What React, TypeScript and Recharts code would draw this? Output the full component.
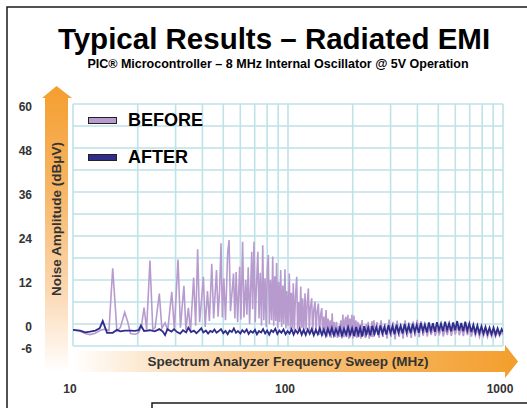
import { CartesianGrid, Legend, Line, LineChart, XAxis, YAxis } from 'recharts'

// [frequency MHz, amplitude dBµV]
const beforePoints: [number, number][] = [
    [10, -1.6], [10.8, -2.0], [11.4, -2.6], [12.0, -2.9], [12.7, -2.5], [13.4, -1.7], [14.1, -1.4], [14.7, -1.8],
    [15.3, 15.2], [16.0, -1.9], [16.6, -1.0], [17.4, 3.2], [18.0, 0.4], [18.5, -2.6], [19.4, -2.8], [20.1, -2.5],
    [20.8, -0.8], [21.4, 4.5], [22.0, -1.4], [22.8, 17.3], [23.5, -1.5], [24.1, -1.0], [25.2, 8.3], [25.9, -1.2],
    [26.8, 0.3], [27.6, -1.6], [28.8, 8.8], [29.6, -1.5], [30.8, 17.6], [31.6, -1.0], [32.8, 10.4], [33.5, -1.6],
    [34.4, 4.4], [35.2, -2.0], [36.4, 12.7], [37.2, -0.5], [38.0, 20.4], [38.8, 0.5], [39.6, 6.5], [40.4, 12.9],
    [41.2, -0.8], [42.2, 9.0], [43.1, 0.8], [44.2, 16.4], [45.1, 1.5], [45.8, 8.0], [46.5, 14.7], [47.3, 2.0],
    [48.1, 9.5], [48.8, 22.0], [49.5, 1.8], [50.3, 12.5], [51.2, 1.0], [51.8, 10.0], [52.4, 19.3], [53.2, 22.9],
    [54.0, 3.5], [54.8, 8.0], [55.8, 13.8], [56.6, 1.5], [57.4, 14.2], [58.3, 0.5], [59.6, 15.6], [60.4, 1.2],
    [61.5, 22.4], [62.4, 1.8], [63.6, 12.0], [64.4, 2.5], [65.3, 15.5], [66.3, 0.0], [67.8, 19.7], [68.5, 4.0],
    [69.5, 22.4], [70.4, 0.5], [71.3, 10.0], [72.4, 19.7], [73.3, 1.5], [74.3, 14.0], [75.3, -0.5], [76.3, 21.5],
    [77.2, 1.0], [78.2, 12.5], [79.2, -0.8], [80.1, 15.0], [81.0, 18.8], [81.9, 0.0], [82.9, 12.0], [83.9, 1.0],
    [84.9, 18.4], [85.8, -0.5], [86.8, 13.0], [87.7, 0.8], [88.5, 16.6], [89.5, -1.0], [90.5, 11.5], [91.5, 0.5],
    [92.5, 14.7], [93.5, -0.8], [94.6, 10.5], [95.6, 0.0], [96.8, 14.9], [97.8, -1.2], [98.8, 9.0], [100, -0.5],
    [101.4, 13.8], [102.5, -1.5], [103.6, 8.5], [104.7, -1.0], [105.8, 11.1], [107.0, -2.0], [108.3, 7.5],
    [109.8, 12.9], [110.8, -1.5], [112.0, 6.0], [113.3, -2.0], [114.6, 10.2], [115.8, -1.0], [117.0, 7.0],
    [118.3, -2.5], [120.0, 8.4], [121.3, -1.5], [122.8, 5.5], [124.4, 9.7], [125.6, -2.0], [127.0, 4.5],
    [128.9, 7.0], [130.2, -2.8], [131.8, 4.0], [133.6, 6.1], [135.0, -2.5], [136.6, 3.5], [138.5, 5.6],
    [140.0, -3.0], [141.8, 2.5], [143.6, 4.3], [145.0, -3.2], [146.8, 2.0], [148.5, -2.0], [150.3, 3.8],
    [152.0, -3.5], [153.5, 1.5], [155.2, -2.5], [157.0, 1.0], [158.8, -3.8], [160.5, 2.9], [162.2, -3.0],
    [164.0, 0.5], [166.0, -3.5], [168.0, 0.6], [170.0, -3.8], [172.0, -0.5], [174.0, -3.5], [176.0, 1.0],
    [178.0, -3.0], [180.0, 2.6], [182.0, -3.6], [184.0, 1.0], [186.0, 2.0], [188.0, -3.5], [190.0, 2.5],
    [192.0, -4.0], [194.0, 1.5], [196.0, -3.2], [198.2, 2.5], [200.5, -4.0], [202.5, 2.3], [205.0, -3.5],
    [207.0, 1.0], [209.0, -3.8], [211.5, 0.6], [214.0, -3.5], [216.0, 0.0], [218.5, -4.0], [221.0, 1.1],
    [223.5, -3.2], [226.0, -0.5], [228.5, -3.8], [231.0, 0.0], [233.5, -3.0], [236.0, 0.6], [238.5, -4.0],
    [241.0, -0.5], [243.5, -3.5], [246.0, 0.8], [248.5, -3.6], [251.0, 1.0], [253.9, -3.0], [259.4, 0.5],
    [265.1, -3.8], [270.8, 1.0], [276.7, -3.5], [282.7, 0.2], [288.9, -4.0], [295.2, 1.2], [301.6, -3.6],
    [308.2, 0.6], [314.9, -4.2], [321.7, 0.9], [328.7, -3.5], [335.8, 0.0], [343.1, -4.0], [350.6, 1.0],
    [358.2, -3.6], [366.0, 0.4], [374.0, -3.8], [382.1, 0.7], [390.4, -3.4], [398.9, 1.1], [407.6, -3.6],
    [416.4, 0.8], [425.5, -3.2], [434.7, -0.2], [444.2, -3.4], [453.8, -0.8], [463.7, -3.0], [473.8, -0.5],
    [484.1, -3.3], [494.6, -1.0], [505.4, -3.1], [516.4, -0.6], [527.6, -3.4], [539.1, -1.0], [550.8, -3.0],
    [562.8, -0.4], [575.0, -3.2], [587.5, -0.8], [600.3, -2.9], [613.3, -0.3], [626.7, -3.1], [640.3, -0.9],
    [654.2, -3.3], [668.4, -0.5], [683.0, -3.0], [697.8, -1.0], [713.0, -3.4], [728.5, -1.2], [744.3, -3.2],
    [760.5, -1.4], [777.0, -3.5], [793.9, -1.5], [811.2, -3.3], [828.8, -1.6], [846.8, -3.6], [865.2, -1.8],
    [884.0, -3.4], [903.2, -1.7], [922.9, -3.5], [942.9, -2.0], [963.4, -3.3], [984.4, -2.2], [1000, -3.0]
]

const afterPoints: [number, number][] = [
    [10, -1.6], [10.8, -1.8], [11.4, -2.3], [12.0, -2.1], [12.7, -1.8], [13.3, -1.2], [13.75, 0.8], [14.4, -2.4],
    [15.3, -2.4], [16.0, -1.6], [16.6, -2.0], [17.4, -1.8], [18.5, -1.8], [19.4, -1.9], [20.2, -1.7], [20.7, -0.4],
    [21.4, -1.9], [22.8, -1.7], [24.0, -2.0], [25.2, -1.4], [26.1, -2.0], [26.8, -3.0], [27.5, -1.4], [28.7, -2.1],
    [29.5, -1.4], [30.5, -2.2], [31.5, -2.6], [32.5, -1.7], [33.6, -2.3], [34.4, -1.0], [35.4, -2.2], [36.5, -1.8],
    [37.5, -2.5], [38.5, -1.9], [39.5, -1.2], [40.4, -2.3], [41.5, -1.8], [42.5, -2.6], [43.5, -1.9], [44.5, -2.2],
    [45.5, -1.5], [46.5, -2.4], [47.5, -2.0], [48.8, -1.4], [50.0, -2.5], [51.2, -1.9], [52.4, -2.8], [53.5, -1.8],
    [54.8, -2.2], [56.0, -1.2], [57.3, -2.4], [58.5, -1.9], [60.0, -2.6], [61.3, -1.7], [62.7, -2.3], [64.2, -1.5],
    [65.6, -2.7], [67.0, -1.9], [68.6, -2.4], [70.2, -1.6], [71.7, -2.8], [73.3, -1.9], [75.0, -2.3], [76.6, -1.4],
    [78.3, -2.6], [80.0, -1.8], [81.8, -2.9], [83.6, -1.7], [85.4, -2.2], [87.3, -1.3], [89.2, -2.7], [91.2, -1.8],
    [93.2, -2.4], [95.3, -1.5], [97.4, -2.8], [99.5, -1.9], [101.7, -2.6], [103.9, -1.4], [106.2, -2.9],
    [108.5, -1.7], [110.9, -2.5], [113.3, -1.3], [115.8, -2.9], [118.3, -1.6], [120.9, -3.0], [123.5, -1.5],
    [126.2, -2.7], [129.0, -1.4], [131.8, -3.1], [134.7, -1.6], [137.6, -2.8], [140.6, -1.2], [143.7, -3.0],
    [146.8, -1.5], [150.0, -3.2], [153.3, -1.3], [156.6, -2.9], [160.0, -1.1], [163.5, -3.1], [167.1, -1.4],
    [170.8, -2.8], [174.5, -1.0], [178.3, -3.2], [182.2, -1.3], [186.2, -2.9], [190.3, -0.9], [194.4, -3.0],
    [198.7, -1.2], [203.0, -3.3], [207.4, -0.8], [212.0, -2.9], [216.6, -1.1], [221.3, -3.4], [226.2, -0.6],
    [231.1, -2.8], [236.1, -1.0], [241.3, -3.1], [246.6, -0.5], [252.0, -2.7], [257.5, -0.9], [263.1, -3.0],
    [268.9, -0.4], [274.8, -2.6], [280.8, -0.8], [286.9, -2.9], [293.2, -0.3], [299.6, -2.5], [306.2, -0.6],
    [312.9, -2.8], [319.7, -0.2], [326.7, -2.4], [333.9, -0.5], [341.2, -2.6], [348.7, 0.0], [356.3, -2.3],
    [364.1, -0.4], [372.1, -2.5], [380.2, 0.1], [388.6, -2.2], [397.1, -0.3], [405.8, -2.4], [414.7, 0.3],
    [423.7, -2.0], [433.0, -0.1], [442.5, -2.3], [452.2, 0.4], [462.1, -1.8], [472.2, 0.2], [482.5, -2.1],
    [493.1, 0.5], [503.9, -1.7], [514.9, 0.1], [526.2, -2.0], [537.7, 0.6], [549.5, -1.6], [561.5, 0.2],
    [573.8, -2.0], [586.3, 0.4], [599.1, -1.7], [612.2, 0.8], [625.6, -1.8], [639.3, 0.3], [653.3, -2.0],
    [667.6, 0.6], [682.2, -1.8], [697.1, 0.1], [712.4, -2.2], [728.0, -0.2], [743.9, -2.4], [760.2, -0.4],
    [776.8, -2.5], [793.8, -0.6], [811.2, -2.6], [829.0, -0.8], [847.1, -2.7], [865.7, -1.0], [884.6, -2.8],
    [904.0, -1.0], [923.8, -2.9], [944.0, -1.2], [964.7, -2.8], [985.8, -1.4], [1000, -2.2]
]

const seriesNames = ['BEFORE', 'AFTER']
const freqTicks = [10, 20, 30, 40, 50, 60, 70, 80, 90, 100, 200, 300, 400, 500, 600, 700, 800, 900, 1000]
const freqLabels = [10, 100, 1000]
const dbTicks = [-6, 0, 6, 12, 18, 24, 30, 36, 42, 48, 54, 60]
const dbLabels = [-6, 0, 12, 24, 36, 48, 60]

const FONT = "'Liberation Sans', Arial, sans-serif"
const INK = '#333333'
const BEFORE_COLOR = '#B89BCE'
const AFTER_COLOR = '#2E2D8C'

const toRows = (points: [number, number][]) => points.map(([f, v]) => ({ f, v }))

function DbTick({ x, y, payload }: any) {
    if (!dbLabels.includes(payload.value)) return <g />
    return (
        <text x={x - 41} y={y + 7} textAnchor='end' fontFamily={FONT} fontWeight='bold' fontSize={12} fill={INK}>
            {payload.value}
        </text>
    )
}

function FreqTick({ x, y, payload }: any) {
    if (!freqLabels.includes(payload.value)) return <g />
    return (
        <text x={x - 3} y={y + 47} textAnchor='middle' fontFamily={FONT} fontWeight='bold' fontSize={12} fill={INK}>
            {payload.value}
        </text>
    )
}

function LegendBox({ payload }: any) {
    const items = [...(payload ?? [])].sort(
        (a: any, b: any) => seriesNames.indexOf(a.value) - seriesNames.indexOf(b.value)
    )
    return (
        <div style={{ fontFamily: FONT }}>
            {items.map((item: any) => (
                <div key={item.value} style={{ display: 'flex', alignItems: 'center', height: 20, marginBottom: 17 }}>
                    <span
                        style={{
                            width: 27,
                            height: 5,
                            background: item.color,
                            border: '1px solid #222',
                            display: 'inline-block'
                        }}
                    />
                    <span style={{ marginLeft: 11, fontSize: 18, fontWeight: 'bold', color: '#000' }}>{item.value}</span>
                </div>
            ))}
        </div>
    )
}

function Backdrop() {
    return (
        <svg width={527} height={408} style={{ position: 'absolute', left: 0, top: 0 }}>
            <defs>
                <linearGradient id='upArrow' x1='0' y1='1' x2='0' y2='0'>
                    <stop offset='0' stopColor='#FFFFFF' />
                    <stop offset='0.3' stopColor='#FBD6AE' />
                    <stop offset='0.65' stopColor='#F7B564' />
                    <stop offset='1' stopColor='#F49E30' />
                </linearGradient>
                <linearGradient id='rightArrow' x1='0' y1='0' x2='1' y2='0'>
                    <stop offset='0' stopColor='#FFFFFF' />
                    <stop offset='0.35' stopColor='#F9CD98' />
                    <stop offset='0.7' stopColor='#F6B45C' />
                    <stop offset='1' stopColor='#F39E2C' />
                </linearGradient>
            </defs>
            <path d='M7,408 L7,7 L527,7' fill='none' stroke='#1A1A1A' strokeWidth={1.5} />
            <path d='M527,403 L152,403 L152,408' fill='none' stroke='#1A1A1A' strokeWidth={1.5} />
            <path d='M45,372 L45,98 L42,98 L56.5,86 L72,98 L68,98 L68,372 Z' fill='url(#upArrow)' />
            <path d='M72,351 L505,351 L505,345 L518,361.5 L505,378 L505,372 L72,372 Z' fill='url(#rightArrow)' />
            <text x={274} y={49} textAnchor='middle' fontFamily={FONT} fontWeight='bold' fontSize={29.5} fill='#000'>
                Typical Results – Radiated EMI
            </text>
            <text x={278} y={68} textAnchor='middle' fontFamily={FONT} fontWeight='bold' fontSize={12.5} fill='#000'>
                PIC® Microcontroller – 8 MHz Internal Oscillator @ 5V Operation
            </text>
        </svg>
    )
}

export default function App() {
    return (
        <div style={{ position: 'absolute', left: 0, top: 0, width: 527, height: 408, background: '#fff' }}>
            <Backdrop />
            <div style={{ position: 'absolute', left: 0, top: 0 }}>
                <LineChart width={527} height={408} margin={{ top: 104, right: 24, bottom: 22, left: 13 }}>
                    <CartesianGrid stroke='#BEE2E8' strokeWidth={1.6} />
                    <XAxis
                        dataKey='f'
                        type='number'
                        scale='log'
                        domain={[10, 1000]}
                        ticks={freqTicks}
                        interval={0}
                        allowDataOverflow
                        axisLine={false}
                        tickLine={false}
                        tickSize={0}
                        tickMargin={0}
                        height={40}
                        tick={<FreqTick />}
                        label={(props: any) => {
                            const vb = props.viewBox
                            return (
                                <text
                                    x={vb.x + vb.width / 2}
                                    y={vb.y + 20}
                                    textAnchor='middle'
                                    fontFamily={FONT}
                                    fontWeight='bold'
                                    fontSize={13.5}
                                    fill={INK}
                                >
                                    Spectrum Analyzer Frequency Sweep (MHz)
                                </text>
                            )
                        }}
                    />
                    <YAxis
                        dataKey='v'
                        type='number'
                        domain={[-6, 60]}
                        ticks={dbTicks}
                        interval={0}
                        allowDataOverflow
                        axisLine={false}
                        tickLine={false}
                        tickSize={0}
                        tickMargin={0}
                        width={60}
                        tick={<DbTick />}
                        label={(props: any) => {
                            const vb = props.viewBox
                            const cx = vb.x + 43
                            const cy = vb.y + vb.height / 2 - 6
                            return (
                                <text
                                    x={cx}
                                    y={cy}
                                    transform={`rotate(-90 ${cx} ${cy})`}
                                    textAnchor='middle'
                                    dominantBaseline='central'
                                    fontFamily={FONT}
                                    fontWeight='bold'
                                    fontSize={13.5}
                                    fill={INK}
                                >
                                    Noise Amplitude (dBμV)
                                </text>
                            )
                        }}
                    />
                    <Legend
                        layout='vertical'
                        align='center'
                        verticalAlign='middle'
                        content={<LegendBox />}
                        wrapperStyle={{ left: 88, top: 110, width: 'auto' }}
                    />
                    <Line
                        data={toRows(beforePoints)}
                        dataKey='v'
                        name='BEFORE'
                        type='linear'
                        stroke={BEFORE_COLOR}
                        strokeWidth={1.6}
                        dot={false}
                        activeDot={false}
                        isAnimationActive={false}
                    />
                    <Line
                        data={toRows(afterPoints)}
                        dataKey='v'
                        name='AFTER'
                        type='linear'
                        stroke={AFTER_COLOR}
                        strokeWidth={1.8}
                        dot={false}
                        activeDot={false}
                        isAnimationActive={false}
                    />
                </LineChart>
            </div>
        </div>
    )
}
